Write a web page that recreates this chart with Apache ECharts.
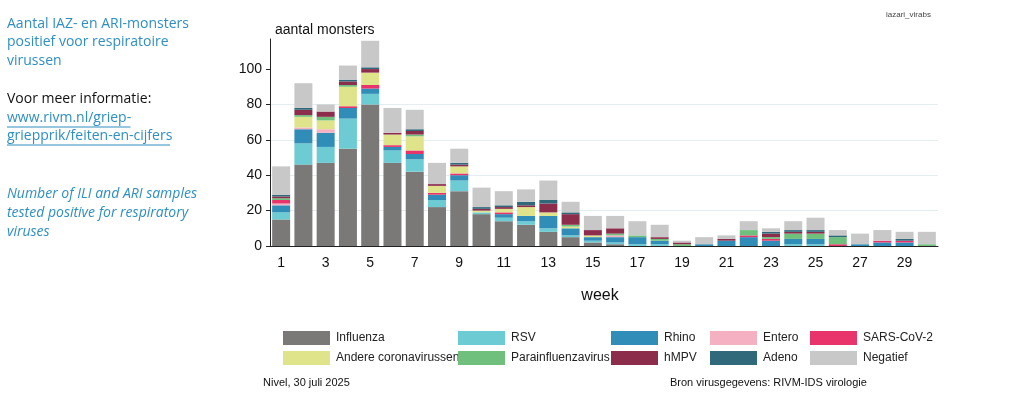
<!DOCTYPE html>
<html><head><meta charset="utf-8">
<script src="https://cdn.jsdelivr.net/npm/echarts@6/dist/echarts.min.js"></script>
<style>html,body{margin:0;padding:0;background:#fff}#c{width:1024px;height:394px}</style>
</head><body><div id="c"></div>
<script>
const weeks = ['1','2','3','4','5','6','7','8','9','10','11','12','13','14','15','16','17','18','19','20','21','22','23','24','25','26','27','28','29','30'];
const yTicks = [0, 20, 40, 60, 80, 100];
const influenza = [15,46,47,55,80,47,42,22,31,18,14,12,8,5,2,1,0,0,0,0,0,0,0,0,0,0,0,0,0,0];
const rsv       = [4,12,9,17,6,7,7,4,6,1,2,2,2,1,1,1,1,1,0,0,0,0,0,1,1,0,0,0,0,0];
const rhino     = [4,8,8,6,3,2,3,3,3,0,2,3,7,4,2,3,4,2,0,1,3,5,3,3,3,0,1,2,2,0];
const entero    = [1,1,2,0,0,0,0,0,0,0,0,0,0,0,0,1,0,0,0,0,0,0,0,0,0,0,0,0,0,0];
const sarscov2  = [2,0,0,1,2,1,2,1,1,0,1,0,0,0,0,0,0,0,0,0,0,1,1,0,0,1,0,1,1,0];
const andereCorona = [0,6,5,11,7,6,8,4,4,1,2,5,2,1,1,0,0,0,0,0,0,0,0,0,0,0,0,0,0,0];
const parainfluenza = [1,1,2,1,0,0,1,0,0,0,0,0,0,1,0,1,1,1,1,0,0,3,1,3,3,4,0,0,0,1];
const hmpv      = [1,3,3,2,2,1,2,1,1,1,1,1,5,6,3,3,0,1,1,0,1,0,2,1,1,0,0,0,0,0];
const adeno     = [1,1,0,1,1,0,1,0,1,1,1,2,2,1,0,0,0,0,0,0,0,0,1,1,1,1,0,0,1,0];
const negatief  = [16,14,4,8,15,14,11,12,8,11,8,7,11,6,8,7,8,7,1,4,2,5,2,5,7,3,6,6,4,7];

const seriesDefs = [
  {name:'Influenza', data:influenza, color:'#7b7978'},
  {name:'RSV', data:rsv, color:'#6dcbd3'},
  {name:'Rhino', data:rhino, color:'#2f8db8'},
  {name:'Entero', data:entero, color:'#f5b0c2'},
  {name:'SARS-CoV-2', data:sarscov2, color:'#e9336b'},
  {name:'Andere coronavirussen', data:andereCorona, color:'#dfe48a'},
  {name:'Parainfluenzavirus', data:parainfluenza, color:'#6fc07c'},
  {name:'hMPV', data:hmpv, color:'#8d2d4c'},
  {name:'Adeno', data:adeno, color:'#30697a'},
  {name:'Negatief', data:negatief, color:'#c8c8c8'}
];

const chart = echarts.init(document.getElementById('c'), null, {renderer:'canvas'});
const blue = '#2f8fc0';
const leftFont = '"Open Sans", Lato, sans-serif';
const chartFont = '"Liberation Sans", Arial, sans-serif';

function txt(x, y, s, opts) {
  return {type:'text', x:x, y:y, style:Object.assign({text:s, fill:'#111', font:'14px ' + leftFont, textVerticalAlign:'middle'}, opts||{})};
}

const legendCols = [
  {left:283, items:['Influenza','Andere coronavirussen']},
  {left:458, items:['RSV','Parainfluenzavirus']},
  {left:611, items:['Rhino','hMPV']},
  {left:710, items:['Entero','Adeno']},
  {left:810, items:['SARS-CoV-2','Negatief']}
];

const option = {
  animation:false,
  textStyle:{fontFamily:chartFont},
  grid:{left:270, top:39, width:668, height:207, containLabel:false},
  legend: legendCols.map(c => ({
    left:c.left, top:331, padding:0, orient:'vertical', itemGap:6, itemWidth:47, itemHeight:14,
    selectedMode:false, icon:'rect', data:c.items,
    textStyle:{fontSize:12, lineHeight:14, color:'#222', fontFamily:chartFont, padding:[0,0,0,1]}
  })),
  xAxis:[{
    type:'category', data:weeks,
    axisLine:{lineStyle:{color:'#222', width:1}},
    axisTick:{alignWithLabel:true, interval:1, length:6, lineStyle:{color:'#222'}},
    axisLabel:{interval:1, fontSize:14, color:'#111', margin:10}
  },{
    type:'category', data:weeks, position:'bottom',
    axisLine:{show:false},
    axisTick:{alignWithLabel:true, interval:0, length:2, lineStyle:{color:'#222'}},
    axisLabel:{show:false}
  }],
  yAxis:{
    type:'value', min:0, max:117, interval:20,
    axisLine:{show:true, lineStyle:{color:'#222'}},
    axisTick:{show:true, length:4, lineStyle:{color:'#222'}, customValues:yTicks},
    axisLabel:{fontSize:14, color:'#111', margin:8, customValues:yTicks},
    splitLine:{show:true, showMaxLine:false, showMinLine:false, lineStyle:{color:'#e4edf0', width:1}}
  },
  series: seriesDefs.map(s => ({
    name:s.name, type:'bar', stack:'all', data:s.data, barWidth:18, xAxisIndex:0,
    itemStyle:{color:s.color, borderWidth:0},
    emphasis:{disabled:true}
  })),
  graphic:[
    txt(7, 24, 'Aantal IAZ- en ARI-monsters', {fill:blue}),
    txt(7, 42.5, 'positief voor respiratoire', {fill:blue}),
    txt(7, 61, 'virussen', {fill:blue}),
    txt(7, 99.5, 'Voor meer informatie:', {fill:'#111'}),
    txt(7, 118.5, 'www.rivm.nl/griep-', {fill:blue}),
    txt(7, 136.5, 'griepprik/feiten-en-cijfers', {fill:blue}),
    {type:'line', shape:{x1:7, y1:127, x2:130.5, y2:127}, style:{stroke:blue, lineWidth:1}},
    {type:'line', shape:{x1:7, y1:145, x2:170, y2:145}, style:{stroke:blue, lineWidth:1}},
    txt(7, 194.5, 'Number of ILI and ARI samples', {fill:blue, font:'italic 14px ' + leftFont}),
    txt(7, 213.5, 'tested positive for respiratory', {fill:blue, font:'italic 14px ' + leftFont}),
    txt(7, 232, 'viruses', {fill:blue, font:'italic 14px ' + leftFont}),
    txt(275, 30, 'aantal monsters', {font:'14px ' + chartFont}),
    txt(600, 296, 'week', {font:'16px ' + chartFont, textAlign:'center'}),
    txt(263, 383, 'Nivel, 30 juli 2025', {font:'11px ' + chartFont}),
    txt(670, 383, 'Bron virusgegevens: RIVM-IDS virologie', {font:'11px ' + chartFont}),
    txt(886, 15, 'iazari_virabs', {font:'8px ' + chartFont, fill:'#444'})
  ]
};
chart.setOption(option);
</script></body></html>
